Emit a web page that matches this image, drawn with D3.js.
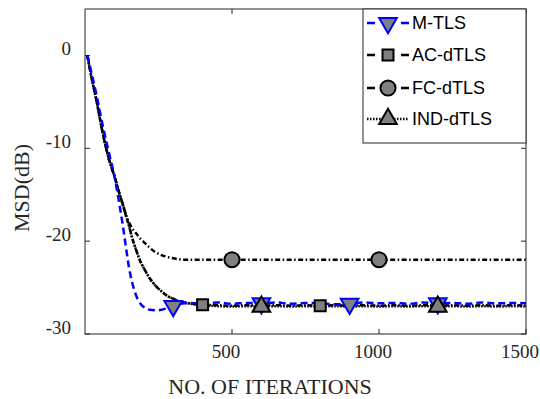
<!DOCTYPE html>
<html>
<head>
<meta charset="utf-8">
<script src="https://cdn.jsdelivr.net/npm/d3@7"></script>
<style>
  body { margin: 0; background: #fff; }
  svg { display: block; }
</style>
</head>
<body>
<div id="wrapper"></div>
<script>
const iters = [8, 20, 40, 60, 80, 100, 120, 130, 140, 150, 160, 170, 180, 190, 200, 220, 240, 260, 280, 300,
    320, 340, 360, 380, 400, 450, 500, 550, 600, 650, 700, 750, 800, 850, 900, 950, 1000,
    1050, 1100, 1150, 1200, 1250, 1300, 1350, 1400, 1450, 1500];

const mtls = [0, -1.6, -4.4, -7.5, -10.3, -13.0, -16.6, -18.6, -20.8, -22.9, -24.4, -25.5, -26.3, -26.8, -27.1, -27.4, -27.45, -27.4, -27.2, -27.0,
    -26.8, -26.7, -26.65, -26.7, -26.7, -26.6, -26.75, -26.65, -26.7, -26.6, -26.75, -26.65, -26.7, -26.8, -26.75, -26.6, -26.7,
    -26.65, -26.75, -26.6, -26.7, -26.65, -26.75, -26.6, -26.7, -26.65, -26.7];

const acdtls = [0, -2.0, -5.0, -8.3, -11.0, -13.0, -15.2, -16.2, -17.3, -18.4, -19.6, -20.6, -21.5, -22.3, -22.9, -24.0, -24.8, -25.4, -25.9, -26.2,
    -26.5, -26.6, -26.7, -26.8, -26.85, -26.9, -26.95, -26.9, -26.95, -26.9, -26.95, -26.9, -26.95, -26.9, -26.95, -26.9, -26.95,
    -26.9, -26.95, -26.9, -26.95, -26.9, -26.95, -26.9, -26.95, -26.9, -26.95];

const fcdtls = [0, -2.0, -5.0, -8.3, -11.0, -13.0, -15.2, -16.2, -17.3, -18.0, -18.6, -19.0, -19.4, -19.8, -20.1, -20.7, -21.2, -21.5, -21.7, -21.85,
    -21.95, -22.0, -22.0, -22.0, -22.0, -22.0, -22.0, -22.0, -22.0, -22.0, -22.0, -22.0, -22.0, -22.0, -22.0, -22.0, -22.0,
    -22.0, -22.0, -22.0, -22.0, -22.0, -22.0, -22.0, -22.0, -22.0, -22.0];

const inddtls = [0, -2.0, -5.0, -8.3, -11.0, -13.0, -15.2, -16.2, -17.3, -18.4, -19.6, -20.6, -21.5, -22.3, -22.9, -24.0, -24.8, -25.4, -25.9, -26.2,
    -26.5, -26.65, -26.75, -26.85, -26.9, -27.0, -27.05, -27.0, -27.05, -27.0, -27.05, -27.0, -27.05, -27.0, -27.05, -27.0, -27.05,
    -27.0, -27.05, -27.0, -27.05, -27.0, -27.05, -27.0, -27.05, -27.0, -27.05];

const seriesNames = ["M-TLS", "AC-dTLS", "FC-dTLS", "IND-dTLS"];
const markerIters = [[300, 600, 900, 1200], [400, 800, 1200], [500, 1000], [600, 1200]];

const xTicks = [500, 1000, 1500];
const yTicks = [0, -10, -20, -30];

const dimension = {
    width: 540,
    height: 399,
    margin: { top: 9, right: 14, bottom: 65, left: 85 }
};
dimension.boundedWidth = dimension.width - dimension.margin.left - dimension.margin.right;
dimension.boundedHeight = dimension.height - dimension.margin.top - dimension.margin.bottom;

const x = d3.scaleLinear().domain([0, 1500]).range([dimension.margin.left, dimension.margin.left + dimension.boundedWidth]);
const y = d3.scaleLinear().domain([-30, 5]).range([dimension.margin.top + dimension.boundedHeight, dimension.margin.top]);

const styles = [
    { color: "#0000ff", dash: "7,4", stroke: "#0000ff", sym: "down" },
    { color: "#000", dash: "5,2,1.5,2", stroke: "#000", sym: "square" },
    { color: "#000", dash: "5,2.5,1.5,2.5", stroke: "#000", sym: "circle" },
    { color: "#000", dash: "1.5,1.5", stroke: "#000", sym: "up" }
];
const allSeries = [mtls, acdtls, fcdtls, inddtls];

const svg = d3.select("#wrapper").append("svg")
    .attr("width", dimension.width)
    .attr("height", dimension.height);

const axisColor = "#262626";

// box
svg.append("rect")
    .attr("x", x(0)).attr("y", y(5))
    .attr("width", x(1500) - x(0)).attr("height", y(-30) - y(5))
    .attr("fill", "none").attr("stroke", axisColor).attr("stroke-width", 1);

// ticks (inside, all four sides)
const tl = 5;
xTicks.forEach(t => {
    svg.append("line").attr("x1", x(t)).attr("x2", x(t)).attr("y1", y(-30)).attr("y2", y(-30) - tl).attr("stroke", axisColor);
    svg.append("line").attr("x1", x(t)).attr("x2", x(t)).attr("y1", y(5)).attr("y2", y(5) + tl).attr("stroke", axisColor);
    svg.append("text").attr("x", x(t) - 6).attr("y", y(-30) + 24)
        .attr("text-anchor", "middle")
        .style("font-family", "'Liberation Serif', 'Times New Roman', serif")
        .style("font-size", "19px").attr("fill", axisColor)
        .text(t);
});
yTicks.forEach(t => {
    svg.append("line").attr("x1", x(0)).attr("x2", x(0) + tl).attr("y1", y(t)).attr("y2", y(t)).attr("stroke", axisColor);
    svg.append("line").attr("x1", x(1500)).attr("x2", x(1500) - tl).attr("y1", y(t)).attr("y2", y(t)).attr("stroke", axisColor);
    svg.append("text").attr("x", 71).attr("y", y(t) - 0.5)
        .attr("text-anchor", "end")
        .style("font-family", "'Liberation Serif', 'Times New Roman', serif")
        .style("font-size", "19px").attr("fill", axisColor)
        .text(t);
});

svg.append("text")
    .attr("x", 270).attr("y", 394)
    .attr("text-anchor", "middle")
    .style("font-family", "'Liberation Serif', 'Times New Roman', serif")
    .style("font-size", "22px").attr("fill", axisColor)
    .text("NO. OF ITERATIONS");

svg.append("text")
    .attr("transform", "translate(29,188) rotate(-90)")
    .attr("text-anchor", "middle")
    .style("font-family", "'Liberation Serif', 'Times New Roman', serif")
    .style("font-size", "22px").attr("fill", axisColor)
    .text("MSD(dB)");

// curves
const line = d3.line().x(d => x(d[0])).y(d => y(d[1])).curve(d3.curveMonotoneX);
const plot = svg.append("g");

// lines: FC, IND, AC, then M-TLS on top
[2, 3, 1, 0].forEach(k => {
    const pts = iters.map((it, i) => [it, allSeries[k][i]]);
    plot.append("path")
        .datum(pts)
        .attr("d", line)
        .attr("fill", "none")
        .attr("stroke", styles[k].color)
        .attr("stroke-width", 2.5)
        .attr("stroke-dasharray", styles[k].dash);
});

function symbolPath(kind) {
    if (kind === "square") return d3.symbol(d3.symbolSquare, 121)();
    if (kind === "circle") return d3.symbol(d3.symbolCircle, 180)();
    return d3.symbol(d3.symbolTriangle, 135)();
}

function drawMarker(g, k, cx, cy) {
    const s = styles[k];
    g.append("path")
        .attr("d", symbolPath(s.sym))
        .attr("transform", `translate(${cx},${cy})` + (s.sym === "down" ? " rotate(180)" : ""))
        .attr("fill", "#808080")
        .attr("stroke", s.stroke)
        .attr("stroke-width", 2);
}

const valueAt = (k, it) => allSeries[k][iters.indexOf(it)];

// markers: IND triangles end up on top of the M-TLS ones
[1, 2, 0, 3].forEach(k => {
    markerIters[k].forEach(it => {
        drawMarker(plot, k, x(it), y(valueAt(k, it)));
    });
});

// legend
const legend = svg.append("g");
legend.append("rect")
    .attr("x", 363).attr("y", 9)
    .attr("width", 163).attr("height", 134)
    .attr("fill", "#fff").attr("stroke", axisColor).attr("stroke-width", 1);

const legendY = [23, 55, 88, 119];
seriesNames.forEach((name, k) => {
    const ly = legendY[k];
    legend.append("line")
        .attr("x1", 367).attr("x2", 409).attr("y1", ly).attr("y2", ly)
        .attr("stroke", styles[k].color).attr("stroke-width", 2.5)
        .attr("stroke-dasharray", k === 3 ? "1.5,1.5" : "8,26");
    drawMarker(legend, k, 388, ly);
    legend.append("text")
        .attr("x", 412).attr("y", ly + 6)
        .style("font-family", "'Liberation Sans', Arial, sans-serif")
        .style("font-size", "18px").attr("fill", "#000")
        .text(name);
});
</script>
</body>
</html>
